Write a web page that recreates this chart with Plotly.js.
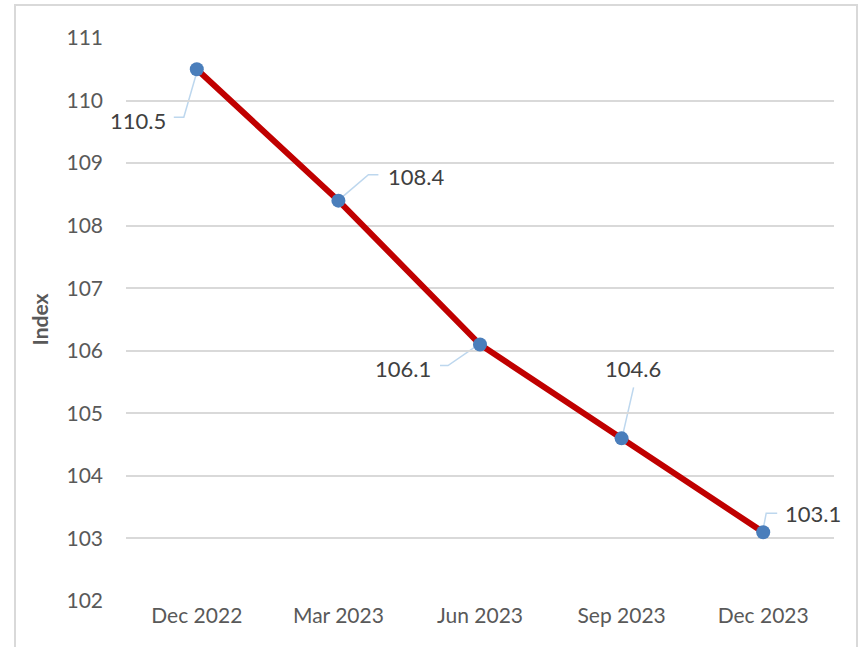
<!DOCTYPE html>
<html>
<head>
<meta charset="utf-8">
<script src="https://cdn.plot.ly/plotly-3.0.1.min.js"></script>
<style>
html,body{margin:0;padding:0;background:#fff;}
#wrap{position:relative;width:861px;height:647px;overflow:hidden;}
#chart{position:absolute;left:0;top:0;width:861px;height:647px;}
#frame{position:absolute;left:14px;top:4px;width:840px;height:700px;border:2px solid #D9D9D9;pointer-events:none;}
</style>
</head>
<body>
<div id="wrap"><div id="chart"></div><div id="frame"></div></div>
<script>
const categories = ['Dec 2022', 'Mar 2023', 'Jun 2023', 'Sep 2023', 'Dec 2023'];
const indexValues = [110.5, 108.4, 106.1, 104.6, 103.1];
const valueLabels = ['110.5', '108.4', '106.1', '104.6', '103.1'];
const yTicks = [102, 103, 104, 105, 106, 107, 108, 109, 110, 111];

// label offsets (pixels) and leader-line paths (pixels, relative to the point)
const labelShift = [[-59, -51], [78, 24], [-77, -24], [11, 70], [50, 19]];
const leaderPaths = [
  'M0,-3 L-13,-48 L-23,-48',
  'M2,2 L30,26 L40,26',
  'M-3,-1 L-32,-21 L-40,-21',
  'M1,3 L12,51',
  'M0,3 L3,19 L14,19'
];

const font = 'Lato, "Liberation Sans", Arial, sans-serif';

const trace = {
  x: categories,
  y: indexValues,
  type: 'scatter',
  mode: 'lines+markers',
  line: {color: '#C00000', width: 6},
  marker: {color: '#4A7EBB', size: 14},
  hoverinfo: 'x+y',
  cliponaxis: false
};

const annotations = categories.map((c, i) => ({
  x: c, y: indexValues[i], xref: 'x', yref: 'y',
  text: valueLabels[i], showarrow: false,
  xshift: labelShift[i][0], yshift: labelShift[i][1],
  font: {family: font, size: 22, color: '#404040'}
}));

const shapes = categories.map((c, i) => ({
  type: 'path', xref: 'x', yref: 'y',
  xsizemode: 'pixel', ysizemode: 'pixel',
  xanchor: i, yanchor: indexValues[i],
  path: leaderPaths[i],
  line: {color: '#BDD7EE', width: 1.5},
  layer: 'below'
}));

const layout = {
  width: 861, height: 647,
  margin: {l: 126, r: 27, t: 38, b: 46},
  paper_bgcolor: 'rgba(0,0,0,0)',
  plot_bgcolor: 'rgba(0,0,0,0)',
  showlegend: false,
  font: {family: font, color: '#595959'},
  xaxis: {
    type: 'category', range: [-0.5, 4.5],
    showgrid: false, zeroline: false, showline: false,
    ticks: '', tickfont: {family: font, size: 21, color: '#595959'},
    fixedrange: true
  },
  yaxis: {
    range: [102, 111], tickvals: yTicks, ticktext: yTicks.map(String),
    showgrid: true, gridcolor: '#D9D9D9', gridwidth: 2,
    zeroline: false, showline: false, ticks: '',
    ticklabelstandoff: 22,
    tickfont: {family: font, size: 21, color: '#595959'},
    title: {text: '<b>Index</b>', font: {family: font, size: 21, color: '#595959'}, standoff: 12},
    fixedrange: true
  },
  annotations: annotations,
  shapes: shapes
};

Plotly.newPlot('chart', [trace], layout, {displayModeBar: false, staticPlot: true});
</script>
</body>
</html>
